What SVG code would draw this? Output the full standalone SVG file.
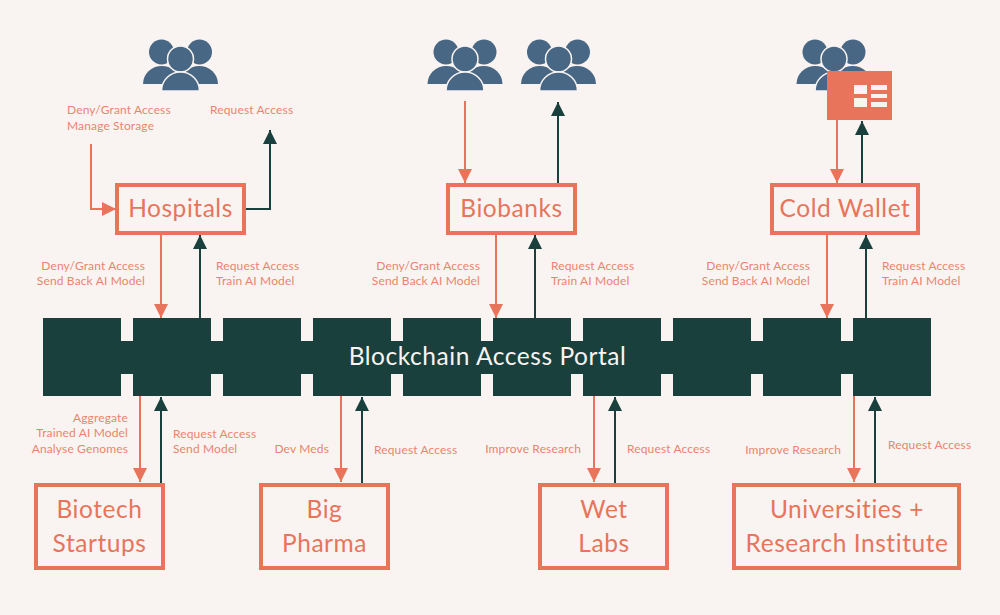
<svg xmlns="http://www.w3.org/2000/svg" xmlns:xlink="http://www.w3.org/1999/xlink" width="1000" height="615" viewBox="0 0 1000 615">
<style>
text{font-family:Lato,"Open Sans","Liberation Sans",sans-serif;fill:#e8745c}
.s{font-size:12px;fill:#ea8470;letter-spacing:.14px}
.e{text-anchor:end}
.n{font-size:24.5px;text-anchor:middle;letter-spacing:.55px}
.box{fill:#f9f4f1;stroke:#e8745c;stroke-width:4}
.c{fill:none;stroke:#e8745c;stroke-width:2}
.d{fill:none;stroke:#1a403e;stroke-width:2}
.b{fill:#1a403e}
</style>
<defs>
<marker id="ac" markerUnits="userSpaceOnUse" markerWidth="15" markerHeight="15" refX="14" refY="7.500" orient="auto"><path d="M0 0.500L14 7.500L0 14.500Z" fill="#e8745c"/></marker>
<marker id="ad" markerUnits="userSpaceOnUse" markerWidth="15" markerHeight="15" refX="14" refY="7.500" orient="auto"><path d="M0 0.500L14 7.500L0 14.500Z" fill="#1a403e"/></marker>
<g id="people" fill="#476785" stroke="#f9f4f1" stroke-width="1.500">
<circle cx="-19" cy="-6" r="12.500" stroke="none"/>
<circle cx="19" cy="-6" r="12.500" stroke="none"/>
<path d="M-37.500 26A18.750 18 0 0 1 0 26Z" stroke="none"/>
<path d="M0 26A18.750 18 0 0 1 37.500 26Z" stroke="none"/>
<circle cx="0" cy="1" r="13"/>
<path d="M-19 33A19 19 0 0 1 19 33Z"/>
</g>
</defs>
<rect width="1000" height="615" fill="#f9f4f1"/>
<g id="people-icons">
<use href="#people" x="180.500" y="58"/>
<use href="#people" x="465" y="58"/>
<use href="#people" x="558.500" y="58"/>
<use href="#people" x="834" y="58"/>
</g>
<g id="portal">
<rect class="b" x="43" y="341" width="888" height="33"/>
<rect class="b" x="43" y="318" width="78" height="78"/>
<rect class="b" x="133" y="318" width="78" height="78"/>
<rect class="b" x="223" y="318" width="78" height="78"/>
<rect class="b" x="313" y="318" width="78" height="78"/>
<rect class="b" x="403" y="318" width="78" height="78"/>
<rect class="b" x="493" y="318" width="78" height="78"/>
<rect class="b" x="583" y="318" width="78" height="78"/>
<rect class="b" x="673" y="318" width="78" height="78"/>
<rect class="b" x="763" y="318" width="78" height="78"/>
<rect class="b" x="853" y="318" width="78" height="78"/>
<text x="487.500" y="365" text-anchor="middle" font-size="24.500" style="fill:#f9f4f1;letter-spacing:.55px">Blockchain Access Portal</text>
</g>
<g id="connectors">
<path class="c" d="M91 144V209H116" marker-end="url(#ac)"/>
<path class="d" d="M246 209H270V130" marker-end="url(#ad)"/>
<path class="c" d="M161 235V318" marker-end="url(#ac)"/>
<path class="d" d="M200 318V235" marker-end="url(#ad)"/>
<path class="c" d="M465 101V183" marker-end="url(#ac)"/>
<path class="d" d="M558 183V102" marker-end="url(#ad)"/>
<path class="c" d="M496 235V318" marker-end="url(#ac)"/>
<path class="d" d="M535 318V235" marker-end="url(#ad)"/>
<path class="c" d="M837 120V183" marker-end="url(#ac)"/>
<path class="d" d="M862 183V121" marker-end="url(#ad)"/>
<path class="c" d="M827 235V318" marker-end="url(#ac)"/>
<path class="d" d="M866 318V235" marker-end="url(#ad)"/>
<path class="c" d="M140 396V482" marker-end="url(#ac)"/>
<path class="d" d="M161 483V397" marker-end="url(#ad)"/>
<path class="c" d="M341 396V482" marker-end="url(#ac)"/>
<path class="d" d="M362 483V397" marker-end="url(#ad)"/>
<path class="c" d="M594 396V482" marker-end="url(#ac)"/>
<path class="d" d="M615 483V397" marker-end="url(#ad)"/>
<path class="c" d="M854 396V482" marker-end="url(#ac)"/>
<path class="d" d="M875 483V397" marker-end="url(#ad)"/>
</g>
<g id="cold-wallet-card">
<rect x="827" y="71" width="65" height="49" fill="#e8745c"/>
<g fill="#f9f4f1">
<rect x="854" y="85" width="13" height="9"/>
<rect x="854" y="98" width="13" height="9"/>
<rect x="871" y="85" width="16" height="5"/>
<rect x="871" y="94" width="16" height="4"/>
<rect x="871" y="102" width="16" height="5"/>
</g>
</g>
<g id="hospitals"><rect class="box" x="117" y="185" width="127" height="48"/><text class="n" x="180.500" y="217">Hospitals</text></g>
<g id="biobanks"><rect class="box" x="448" y="185" width="127" height="48"/><text class="n" x="511.500" y="217">Biobanks</text></g>
<g id="cold-wallet"><rect class="box" x="772" y="185" width="146" height="48"/><text class="n" x="845" y="217">Cold Wallet</text></g>
<g id="biotech-startups"><rect class="box" x="36" y="485" width="127" height="83"/><text class="n" x="99.500" y="518">Biotech</text><text class="n" x="99.500" y="552">Startups</text></g>
<g id="big-pharma"><rect class="box" x="261" y="485" width="127" height="83"/><text class="n" x="324.500" y="518">Big</text><text class="n" x="324.500" y="552">Pharma</text></g>
<g id="wet-labs"><rect class="box" x="540" y="485" width="127" height="83"/><text class="n" x="604" y="518">Wet</text><text class="n" x="604" y="552">Labs</text></g>
<g id="universities"><rect class="box" x="734" y="485" width="225" height="83"/><text class="n" x="847" y="518">Universities +</text><text class="n" x="847" y="552">Research Institute</text></g>
<g id="labels">
<text class="s" x="67" y="114">Deny/Grant Access</text>
<text class="s" x="67" y="130">Manage Storage</text>
<text class="s" x="210" y="114">Request Access</text>
<text class="s e" x="145" y="270">Deny/Grant Access</text>
<text class="s e" x="145" y="285">Send Back AI Model</text>
<text class="s" x="216" y="270">Request Access</text>
<text class="s" x="216" y="285">Train AI Model</text>
<text class="s e" x="480" y="270">Deny/Grant Access</text>
<text class="s e" x="480" y="285">Send Back AI Model</text>
<text class="s" x="551" y="270">Request Access</text>
<text class="s" x="551" y="285">Train AI Model</text>
<text class="s e" x="810" y="270">Deny/Grant Access</text>
<text class="s e" x="810" y="285">Send Back AI Model</text>
<text class="s" x="882" y="270">Request Access</text>
<text class="s" x="882" y="285">Train AI Model</text>
<text class="s e" x="128" y="422">Aggregate</text>
<text class="s e" x="128" y="437">Trained AI Model</text>
<text class="s e" x="128" y="453">Analyse Genomes</text>
<text class="s" x="173" y="438">Request Access</text>
<text class="s" x="173" y="453">Send Model</text>
<text class="s e" x="329" y="453">Dev Meds</text>
<text class="s" x="374" y="454">Request Access</text>
<text class="s e" x="581" y="453">Improve Research</text>
<text class="s" x="627" y="453">Request Access</text>
<text class="s e" x="841" y="454">Improve Research</text>
<text class="s" x="888" y="449">Request Access</text>
</g>
</svg>
